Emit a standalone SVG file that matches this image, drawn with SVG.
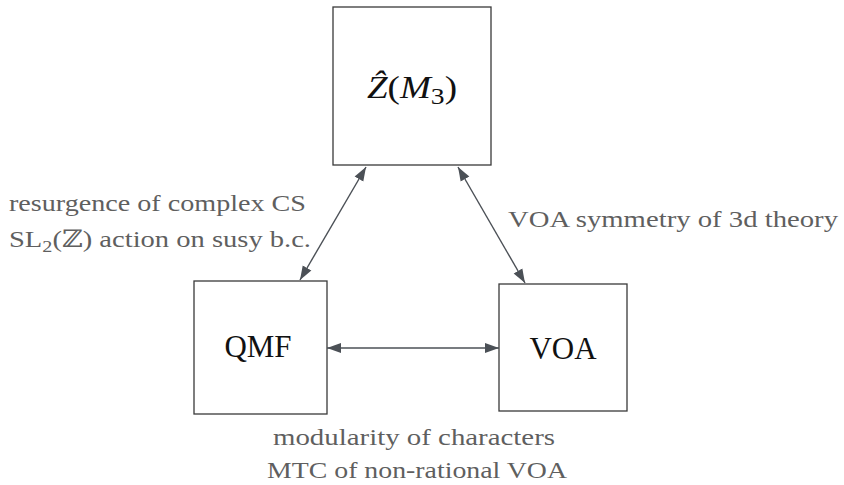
<svg xmlns="http://www.w3.org/2000/svg" width="844" height="485" viewBox="0 0 844 485">
<style>
.box{fill:#fff;stroke:#3a3a3a;stroke-width:1.3}
.node{fill:#111;font-size:31px}
.lbl{fill:#5f5f5f;font-size:24px}
.edge{stroke:#4b5056;stroke-width:1.4;fill:none;marker-start:url(#ah);marker-end:url(#ah)}
text{font-family:"Liberation Serif","DejaVu Serif","Noto Serif","Tinos","Times New Roman","Nimbus Roman","FreeSerif",serif}
</style>
<defs>
<marker id="ah" markerUnits="userSpaceOnUse" markerWidth="14" markerHeight="12" refX="14" refY="5" orient="auto-start-reverse" viewBox="0 0 14 10">
<path d="M0,0 L14,5 L0,10 z" fill="#4b5056"/>
</marker>
</defs>
<rect width="844" height="485" fill="#fff"/>
<g id="node-zhat">
<rect class="box" x="333" y="7" width="158" height="158"/>
<text class="node" x="367" y="98" font-size="34" textLength="90" lengthAdjust="spacingAndGlyphs"><tspan font-style="italic">Ẑ</tspan>(<tspan font-style="italic">M</tspan><tspan font-size="23" dy="6">3</tspan><tspan dy="-6">)</tspan></text>
</g>
<g id="node-qmf">
<rect class="box" x="194" y="281" width="133" height="133"/>
<text class="node" x="258" y="357" text-anchor="middle">QMF</text>
</g>
<g id="node-voa">
<rect class="box" x="499" y="284" width="128" height="127"/>
<text class="node" x="563" y="359" text-anchor="middle">VOA</text>
</g>
<g id="connectors">
<line class="edge" x1="366" y1="167" x2="300" y2="280"/>
<line class="edge" x1="458" y1="167" x2="525" y2="283"/>
<line class="edge" x1="327" y1="348" x2="499" y2="348"/>
</g>
<g id="labels">
<text class="lbl" x="9" y="211" textLength="297" lengthAdjust="spacingAndGlyphs">resurgence of complex CS</text>
<text class="lbl" x="9" y="247" textLength="302" lengthAdjust="spacingAndGlyphs">SL<tspan font-size="17" dy="5">2</tspan><tspan dy="-5">(ℤ) action on susy b.c.</tspan></text>
<text class="lbl" x="508" y="227" textLength="330" lengthAdjust="spacingAndGlyphs">VOA symmetry of 3d theory</text>
<text class="lbl" x="273" y="445" textLength="282" lengthAdjust="spacingAndGlyphs">modularity of characters</text>
<text class="lbl" x="267" y="478" textLength="300" lengthAdjust="spacingAndGlyphs">MTC of non-rational VOA</text>
</g>
</svg>
